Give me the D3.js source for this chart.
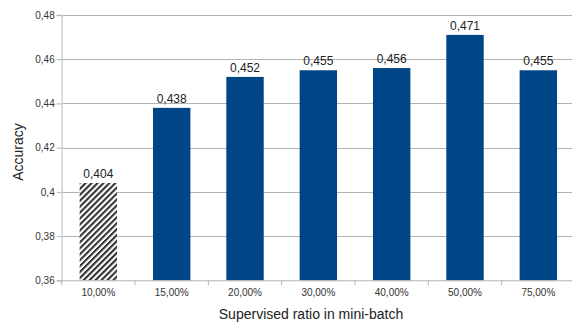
<!DOCTYPE html>
<html>
<head>
<meta charset="utf-8">
<script src="https://cdn.jsdelivr.net/npm/d3@7/dist/d3.min.js"></script>
<style>
  html, body { margin: 0; padding: 0; background: #fff; }
  svg { display: block; font-family: "Liberation Sans", Arial, sans-serif; }
</style>
</head>
<body>
<svg id="chart" width="572" height="323"></svg>
<script>
// Accuracy by supervised ratio in each mini-batch
const categories = ["10,00%", "15,00%", "20,00%", "30,00%", "40,00%", "50,00%", "75,00%"];
const accuracy = [0.404, 0.438, 0.452, 0.455, 0.456, 0.471, 0.455];
const hatched = [true, false, false, false, false, false, false];
const yTicks = [0.36, 0.38, 0.40, 0.42, 0.44, 0.46, 0.48];
const yTickLabels = ["0,36", "0,38", "0,4", "0,42", "0,44", "0,46", "0,48"];

const svg = d3.select("#chart");
const m = { left: 61.7, right: 575, top: 15, bottom: 280.3 };

const x = d3.scaleBand().domain(categories).range([m.left, m.right]).paddingInner(0.49).paddingOuter(0.245);
const y = d3.scaleLinear().domain([0.36, 0.48]).range([m.bottom, m.top]);

// diagonal hatch pattern
const defs = svg.append("defs");
const pat = defs.append("pattern")
  .attr("id", "hatch").attr("patternUnits", "userSpaceOnUse")
  .attr("width", 4.2).attr("height", 4.2)
  .attr("patternTransform", "rotate(45)");
pat.append("rect").attr("width", 4.2).attr("height", 4.2).attr("fill", "#fff");
pat.append("rect").attr("x", 0).attr("width", 2.1).attr("height", 4.2).attr("fill", "#333");

// horizontal gridlines
svg.append("g").selectAll("line").data(yTicks.slice(1)).join("line")
  .attr("x1", m.left).attr("x2", m.right)
  .attr("y1", d => Math.round(y(d)) + 0.5).attr("y2", d => Math.round(y(d)) + 0.5)
  .attr("stroke", "#b3b3b3").attr("stroke-width", 1);

// y axis
const yAxis = d3.axisLeft(y).tickValues(yTicks)
  .tickFormat((d, i) => yTickLabels[i]).tickSize(5).tickPadding(2);
const gy = svg.append("g").attr("transform", `translate(${m.left},0)`).call(yAxis);
gy.select(".domain").attr("stroke", "#d0d0d0").attr("stroke-width", 1.5);
gy.selectAll(".tick line").attr("stroke", "#b3b3b3");
gy.selectAll(".tick text").attr("fill", "#333").attr("font-size", 10)
  .attr("font-family", "Liberation Sans, Arial, sans-serif");

// bars
svg.append("g").selectAll("rect").data(categories).join("rect")
  .attr("x", d => x(d))
  .attr("width", x.bandwidth())
  .attr("y", (d, i) => y(accuracy[i]))
  .attr("height", (d, i) => y(0.36) - y(accuracy[i]))
  .attr("fill", (d, i) => hatched[i] ? "url(#hatch)" : "#004586");

// x axis
const xAxis = d3.axisBottom(x).tickSize(0).tickPadding(9);
const gx = svg.append("g").attr("transform", `translate(0,${m.bottom})`).call(xAxis);
gx.select(".domain").attr("stroke", "#b3b3b3");
gx.selectAll(".tick text").attr("fill", "#333").attr("font-size", 10)
  .attr("font-family", "Liberation Sans, Arial, sans-serif");
// category separators
const step = x.step();
gx.append("g").selectAll("line").data(d3.range(categories.length + 1)).join("line")
  .attr("x1", i => m.left + i * step).attr("x2", i => m.left + i * step)
  .attr("y1", 0).attr("y2", 5).attr("stroke", "#b3b3b3");

// value labels
svg.append("g").selectAll("text").data(categories).join("text")
  .attr("x", d => x(d) + x.bandwidth() / 2)
  .attr("y", (d, i) => y(accuracy[i]) - 5)
  .attr("text-anchor", "middle").attr("font-size", 12).attr("fill", "#222")
  .text((d, i) => String(accuracy[i]).replace(".", ","));

// axis titles
svg.append("text")
  .attr("transform", `translate(23,152) rotate(-90)`)
  .attr("text-anchor", "middle").attr("font-size", 14).attr("fill", "#222")
  .text("Accuracy");
svg.append("text")
  .attr("x", 311).attr("y", 319)
  .attr("text-anchor", "middle").attr("font-size", 14).attr("fill", "#222")
  .text("Supervised ratio in mini-batch");
</script>
</body>
</html>
